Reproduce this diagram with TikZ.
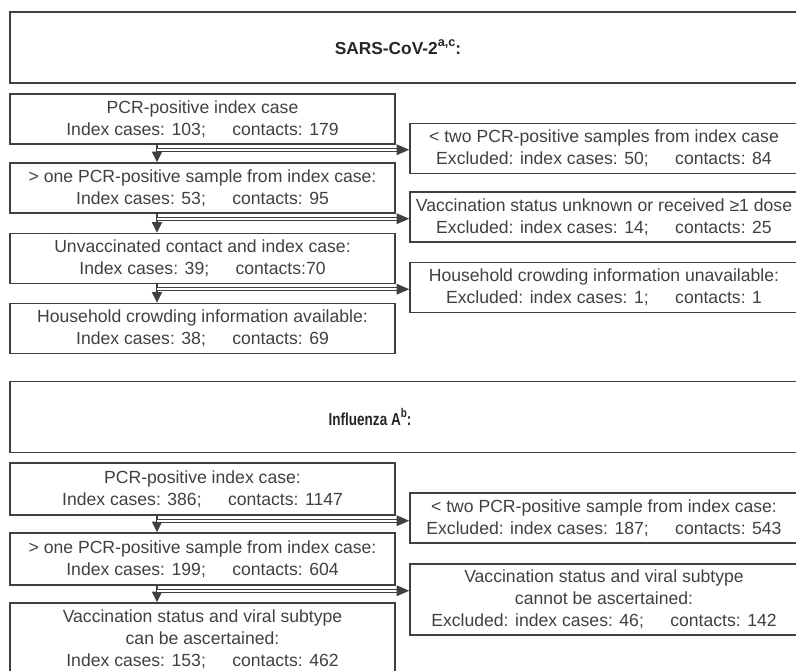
\documentclass[tikz,border=0pt]{standalone}
\usepackage{fontspec}
\setmainfont{Liberation Sans}
\usetikzlibrary{arrows.meta}
\definecolor{ink}{HTML}{404040}
\tikzset{
  box/.style={draw=ink, line width=1.1pt, text=ink, align=center, inner sep=0pt,
    font=\fontsize{13.2}{16.5}\selectfont},
  lbox/.style={box, minimum width=288.75pt, minimum height=37.5pt},
  rbox/.style={box, minimum width=291pt, minimum height=37.5pt},
  hbox/.style={box, minimum width=592.5pt, minimum height=53.25pt},
  htext/.style={text=black!85, inner sep=0pt, font=\bfseries\fontsize{13}{15}\selectfont},
  down/.style={draw=ink, line width=1.1pt, -{Triangle[length=8pt,width=7.5pt]}},
  side/.style={draw=ink, line width=0.85pt, double=white, double distance=1.4pt,
    -{Triangle[length=9.5pt,width=8pt]}}
}
\newcommand{\gap}{;\hspace{1.5em}}
\newcommand{\sups}[1]{\raisebox{0.45em}{\fontsize{9.5}{10}\selectfont #1}}
\begin{document}
\begin{tikzpicture}[x=0.75pt,y=-0.75pt]
\def\AX{-34.125pt};\def\DY{-3.75pt};
\useasboundingbox (0,0) rectangle (796,671);
\clip (0,0) rectangle (796,671);
\node[hbox] (sars) at (405,47.5) {};
\node[htext] (sarst) at (398,47.5) {SARS-CoV-2\sups{a,c}:};
\node[lbox] (s1) at (202.5,119) {PCR-positive index case\\Index cases: 103\gap contacts: 179};
\node[lbox] (s2) at (202.5,188) {> one PCR-positive sample from index case:\\Index cases: 53\gap contacts: 95};
\node[lbox] (s3) at (202.5,258.5) {Unvaccinated contact and index case:\\Index cases: 39\gap contacts:70};
\node[lbox] (s4) at (202.5,328.5) {Household crowding information available:\\Index cases: 38\gap contacts: 69};
\node[rbox] (r1) at (604,148.5) {< two PCR-positive samples from index case\\Excluded: index cases: 50\gap contacts: 84};
\node[rbox] (r2) at (604,217) {Vaccination status unknown or received ≥1 dose\\Excluded: index cases: 14\gap contacts: 25};
\node[rbox] (r3) at (604,287.5) {Household crowding information unavailable:\\Excluded: index cases: 1\gap contacts: 1};
\draw[down] ([xshift=\AX]s1.south) -- ([xshift=\AX]s2.north);
\draw[down] ([xshift=\AX]s2.south) -- ([xshift=\AX]s3.north);
\draw[down] ([xshift=\AX]s3.south) -- ([xshift=\AX]s4.north);
\coordinate (c1) at ([xshift=\AX,yshift=\DY]s1.south);
\coordinate (c2) at ([xshift=\AX,yshift=\DY]s2.south);
\coordinate (c3) at ([xshift=\AX,yshift=\DY]s3.south);
\draw[side] (c1) -- (c1 -| r1.west);
\draw[side] (c2) -- (c2 -| r2.west);
\draw[side] (c3) -- (c3 -| r3.west);
\node[hbox] (flu) at (405,417) {};
\node[htext] (flut) at (370,417) {\scalebox{0.78}[1]{Influenza A\sups{b}:}};
\node[lbox, minimum height=39pt] (i1) at (202.5,489) {PCR-positive index case:\\Index cases: 386\gap contacts: 1147};
\node[lbox, minimum height=39pt] (i2) at (202.5,559) {> one PCR-positive sample from index case:\\Index cases: 199\gap contacts: 604};
\node[lbox, minimum height=54pt] (i3) at (202.5,639) {Vaccination status and viral subtype\\can be ascertained:\\Index cases: 153\gap contacts: 462};
\node[rbox] (j1) at (604,518) {< two PCR-positive sample from index case:\\Excluded: index cases: 187\gap contacts: 543};
\node[rbox, minimum height=53.25pt] (j2) at (604,599.5) {Vaccination status and viral subtype\\cannot be ascertained:\\Excluded: index cases: 46\gap contacts: 142};
\draw[down] ([xshift=\AX]i1.south) -- ([xshift=\AX]i2.north);
\draw[down] ([xshift=\AX]i2.south) -- ([xshift=\AX]i3.north);
\coordinate (d1) at ([xshift=\AX,yshift=\DY]i1.south);
\coordinate (d2) at ([xshift=\AX,yshift=\DY]i2.south);
\draw[side] (d1) -- (d1 -| j1.west);
\draw[side] (d2) -- (d2 -| j2.west);
\end{tikzpicture}
\end{document}
